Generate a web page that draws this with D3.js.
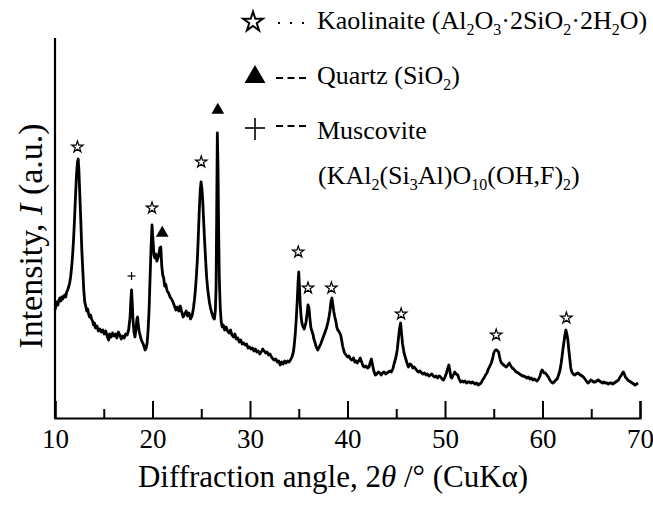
<!DOCTYPE html>
<html>
<head>
<meta charset="utf-8">
<script src="https://cdn.jsdelivr.net/npm/d3@7"></script>
<style>
  html, body { margin: 0; padding: 0; background: #fff; }
  svg { display: block; }
  svg text { font-family: "Liberation Serif", Tinos, "Times New Roman", "DejaVu Serif", serif; fill: #000; }
</style>
</head>
<body>
<svg id="chart" width="653" height="510"></svg>
<script>
const SERIF = '"Liberation Serif", Tinos, "Times New Roman", "DejaVu Serif", serif';

// XRD pattern: [2θ (deg), intensity (a.u.)]
const pattern = [
  [10.0,108],[10.1,112],[10.2,116],[10.3,113],[10.4,118],[10.5,120],[10.6,117],[10.7,121],[10.8,119],[10.9,122],
  [11.0,123],[11.1,121],[11.2,126],[11.3,128],[11.4,131],[11.5,135],[11.6,141],[11.7,150],[11.8,162],[11.9,178],
  [12.0,198],[12.1,221],[12.2,242],[12.3,256],[12.38,259],[12.45,248],[12.55,222],[12.65,196],[12.75,168],[12.85,148],
  [12.95,128],[13.05,116],[13.15,112],[13.25,107],[13.35,109],[13.45,104],[13.55,101],[13.65,103],[13.75,99],[13.85,97],
  [13.95,93],[14.05,95],[14.15,90],[14.3,92],[14.45,87],[14.6,89],[14.75,86],[14.9,88],[15.05,84],[15.2,87],
  [15.35,82],[15.5,78],[15.6,84],[15.75,81],[15.9,85],[16.05,82],[16.2,84],[16.35,80],[16.5,86],[16.65,83],
  [16.8,79],[16.95,82],[17.1,80],[17.25,84],[17.4,83],[17.55,88],[17.7,101],[17.78,118],[17.85,128],[17.93,114],
  [18.0,98],[18.1,86],[18.2,81],[18.3,88],[18.4,99],[18.47,101],[18.55,92],[18.65,86],[18.75,82],[18.85,78],
  [18.95,76],[19.05,74],[19.15,71],[19.25,68],[19.35,70],[19.45,75],[19.55,88],[19.65,108],[19.75,140],[19.85,170],
  [19.95,193],[20.05,178],[20.15,163],[20.25,160],[20.35,164],[20.45,157],[20.55,160],[20.65,163],[20.75,170],[20.85,171],
  [20.95,152],[21.05,143],[21.15,140],[21.25,132],[21.35,134],[21.5,127],[21.65,125],[21.8,121],[21.95,119],[22.1,116],
  [22.25,112],[22.4,108],[22.55,111],[22.7,107],[22.85,112],[23.0,106],[23.15,101],[23.3,104],[23.45,107],[23.6,102],
  [23.75,105],[23.9,99],[24.0,101],[24.1,104],[24.2,110],[24.3,118],[24.4,128],[24.5,142],[24.6,158],[24.7,182],
  [24.8,208],[24.9,228],[24.98,236],[25.07,229],[25.15,218],[25.25,196],[25.35,176],[25.45,158],[25.55,141],[25.65,130],
  [25.75,122],[25.85,115],[25.95,110],[26.05,106],[26.15,103],[26.25,100],[26.35,99],[26.45,108],[26.52,130],[26.58,200],
  [26.65,285],[26.72,250],[26.78,190],[26.85,140],[26.95,110],[27.05,96],[27.15,91],[27.25,93],[27.4,88],[27.55,91],
  [27.7,87],[27.85,85],[28.0,88],[28.15,83],[28.3,81],[28.45,84],[28.6,79],[28.75,80],[28.9,76],[29.05,78],
  [29.2,74],[29.35,75],[29.5,73],[29.65,74],[29.8,70],[29.95,71],[30.1,69],[30.25,70],[30.4,67],[30.55,69],
  [30.7,66],[30.85,67],[31.0,64],[31.15,66],[31.3,69],[31.45,67],[31.6,65],[31.75,66],[31.9,63],[32.05,64],
  [32.2,61],[32.35,59],[32.5,58],[32.65,59],[32.8,56],[32.95,57],[33.1,53],[33.25,56],[33.4,54],[33.55,57],
  [33.7,55],[33.85,57],[34.0,56],[34.15,58],[34.3,61],[34.45,66],[34.55,74],[34.65,85],[34.75,100],[34.85,118],
  [34.93,136],[35.0,146],[35.07,132],[35.15,114],[35.25,100],[35.35,94],[35.45,91],[35.55,89],[35.65,92],[35.75,96],
  [35.85,104],[35.95,113],[36.05,110],[36.15,99],[36.25,90],[36.35,87],[36.45,84],[36.55,79],[36.65,76],[36.8,71],
  [36.95,68],[37.1,71],[37.25,74],[37.4,78],[37.55,82],[37.7,86],[37.85,90],[38.0,96],[38.1,101],[38.2,107],
  [38.3,116],[38.4,120],[38.5,113],[38.6,106],[38.7,101],[38.8,97],[38.9,91],[39.0,88],[39.1,87],[39.2,85],
  [39.3,83],[39.4,78],[39.5,72],[39.6,68],[39.7,65],[39.85,63],[40.0,61],[40.15,62],[40.3,59],[40.45,58],
  [40.6,60],[40.75,56],[40.9,57],[41.0,55],[41.15,57],[41.3,60],[41.45,56],[41.6,52],[41.75,51],[41.9,52],
  [42.05,50],[42.2,51],[42.35,56],[42.45,59],[42.55,54],[42.7,47],[42.85,43],[43.0,44],[43.15,46],[43.3,45],
  [43.45,43],[43.6,45],[43.75,46],[43.9,44],[44.05,45],[44.2,46],[44.35,47],[44.5,46],[44.65,49],[44.8,55],
  [44.95,60],[45.1,68],[45.25,82],[45.35,90],[45.45,95],[45.55,84],[45.65,74],[45.8,65],[45.95,60],[46.1,55],
  [46.25,51],[46.4,54],[46.55,53],[46.7,50],[46.85,51],[47.0,49],[47.15,47],[47.3,46],[47.45,47],[47.6,45],
  [47.75,44],[47.9,45],[48.05,43],[48.2,44],[48.35,42],[48.5,43],[48.65,44],[48.8,42],[48.95,41],[49.1,42],
  [49.25,40],[49.4,42],[49.55,41],[49.7,39],[49.85,38],[50.0,41],[50.15,45],[50.3,50],[50.4,53],[50.5,47],
  [50.6,41],[50.7,40],[50.85,43],[51.0,46],[51.15,44],[51.3,43],[51.45,39],[51.6,36],[51.75,37],[51.9,36],
  [52.05,37],[52.2,35],[52.35,36],[52.5,36],[52.65,35],[52.8,36],[52.95,35],[53.1,34],[53.25,35],[53.4,33],
  [53.55,34],[53.7,35],[53.85,38],[54.0,40],[54.15,43],[54.3,45],[54.45,49],[54.6,52],[54.75,55],[54.9,60],
  [55.0,65],[55.1,67],[55.2,68],[55.3,68],[55.4,67],[55.5,66],[55.6,61],[55.7,57],[55.8,55],[55.9,54],
  [56.0,53],[56.15,52],[56.3,51],[56.45,53],[56.6,55],[56.75,52],[56.9,50],[57.05,49],[57.2,47],[57.35,46],
  [57.5,45],[57.65,44],[57.8,43],[57.95,42],[58.1,42],[58.25,41],[58.4,40],[58.55,41],[58.7,39],[58.85,40],
  [59.0,38],[59.15,39],[59.3,38],[59.45,37],[59.6,39],[59.75,42],[59.85,46],[59.95,48],[60.05,47],[60.15,45],
  [60.3,45],[60.45,43],[60.6,41],[60.75,38],[60.9,36],[61.05,35],[61.2,36],[61.35,38],[61.5,39],[61.65,43],
  [61.8,48],[61.9,54],[62.0,61],[62.1,69],[62.2,76],[62.3,83],[62.4,88],[62.5,84],[62.6,78],[62.7,68],
  [62.8,59],[62.9,50],[63.0,46],[63.15,44],[63.3,43],[63.45,44],[63.6,45],[63.75,44],[63.9,43],[64.05,42],
  [64.2,41],[64.35,39],[64.5,37],[64.65,35],[64.8,36],[64.95,38],[65.1,37],[65.25,36],[65.4,36],[65.55,37],
  [65.7,38],[65.85,37],[66.0,36],[66.15,35],[66.3,36],[66.45,35],[66.6,35],[66.75,34],[66.9,35],[67.05,35],
  [67.2,34],[67.35,35],[67.5,36],[67.65,37],[67.8,38],[67.95,41],[68.1,43],[68.2,45],[68.3,46],[68.4,44],
  [68.5,41],[68.6,40],[68.75,38],[68.9,37],[69.05,36],[69.2,35],[69.35,34],[69.5,33],[69.65,34],[69.8,35]
];

// Phase markers over the identified reflections: [2θ, level (a.u.)]
const kaolinitePeaks = [[12.3,271],[19.95,210],[25.0,256],[34.95,166],[35.95,130],[38.35,130],[45.5,104],[55.25,83],[62.45,100]];
const quartzPeaks    = [[21.0,185],[26.7,308]];
const muscovitePeaks = [[17.85,142]];

const xTicks = [10, 20, 30, 40, 50, 60, 70];
const xMinorTicks = [15, 25, 35, 45, 55, 65];

const svg = d3.select("#chart");

const x = d3.scaleLinear().domain([10, 70]).range([55, 640]);
const y = d3.scaleLinear().domain([0, 380]).range([418, 38]);

// Axes (ticks point inward)
const xAxis = d3.axisBottom(x).tickValues(xTicks).tickSize(-17).tickPadding(30).tickFormat(d3.format("d"));
const gx = svg.append("g").attr("transform", `translate(0,${y(0)})`).call(xAxis);
gx.attr("font-family", SERIF);
gx.select(".domain").attr("stroke", "#000").attr("stroke-width", 2.2);
gx.selectAll(".tick line").attr("stroke", "#000").attr("stroke-width", 2);
gx.selectAll(".tick text")
  .style("font-family", SERIF)
  .attr("font-size", 27).attr("fill", "#000").attr("dy", 0);

const gxm = svg.append("g").attr("transform", `translate(0,${y(0)})`)
  .call(d3.axisBottom(x).tickValues(xMinorTicks).tickSize(-9).tickFormat(""));
gxm.select(".domain").remove();
gxm.selectAll(".tick line").attr("stroke", "#000").attr("stroke-width", 2);

svg.append("line")
  .attr("x1", x(10)).attr("x2", x(10))
  .attr("y1", y(0) + 1).attr("y2", y(380))
  .attr("stroke", "#000").attr("stroke-width", 2.2);

// Diffraction trace
const line = d3.line().x(d => x(d[0])).y(d => y(d[1]));
svg.append("path")
  .datum(pattern)
  .attr("d", line)
  .attr("fill", "none")
  .attr("stroke", "#000")
  .attr("stroke-width", 2.8)
  .attr("stroke-linejoin", "round");

// Phase symbols
const starSmall = d3.symbol().type(d3.symbolStar).size(40);
const triSmall = d3.symbol().type(d3.symbolTriangle).size(70);

svg.append("g").selectAll("path")
  .data(kaolinitePeaks).join("path")
  .attr("transform", d => `translate(${x(d[0])},${y(d[1])})`)
  .attr("d", starSmall())
  .attr("fill", "#fff").attr("stroke", "#000").attr("stroke-width", 1.2);

svg.append("g").selectAll("path")
  .data(quartzPeaks).join("path")
  .attr("transform", d => `translate(${x(d[0])},${y(d[1])})`)
  .attr("d", triSmall())
  .attr("fill", "#000");

const plusG = svg.append("g").selectAll("g")
  .data(muscovitePeaks).join("g")
  .attr("transform", d => `translate(${x(d[0])},${y(d[1])})`);
plusG.append("line").attr("x1", -4).attr("x2", 4).attr("stroke", "#000").attr("stroke-width", 1.2);
plusG.append("line").attr("y1", -4).attr("y2", 4).attr("stroke", "#000").attr("stroke-width", 1.2);

// Axis titles
const xt = svg.append("text").attr("x", 333).attr("y", 487)
  .attr("text-anchor", "middle").attr("font-size", 31).style("font-family", SERIF);
xt.append("tspan").text("Diffraction angle, 2");
xt.append("tspan").attr("font-style", "italic").text("θ");
xt.append("tspan").text(" /° (CuKα)");

const yt = svg.append("text")
  .attr("transform", "translate(42,236) rotate(-90)")
  .attr("text-anchor", "middle").attr("font-size", 34).style("font-family", SERIF);
yt.append("tspan").text("Intensity, ");
yt.append("tspan").attr("font-style", "italic").text("I");
yt.append("tspan").text(" (a.u.)");

// Legend
const legend = svg.append("g").attr("font-size", 26);
function addRich(g, xPos, yPos, parts) {
  const t = g.append("text").attr("x", xPos).attr("y", yPos).style("font-family", SERIF);
  let shift = 0;
  parts.forEach(p => {
    if (typeof p === "string") {
      t.append("tspan").attr("dy", -shift).text(p);
      shift = 0;
    } else {
      t.append("tspan").attr("font-size", 16).attr("dy", 6 - shift).text(p.sub);
      shift = 6;
    }
  });
  return t;
}

legend.append("path")
  .attr("transform", "translate(253,22)")
  .attr("d", d3.symbol().type(d3.symbolStar).size(120)())
  .attr("fill", "#fff").attr("stroke", "#000").attr("stroke-width", 2);
legend.append("line").attr("x1", 278).attr("x2", 306).attr("y1", 23).attr("y2", 23)
  .attr("stroke", "#000").attr("stroke-width", 2).attr("stroke-dasharray", "2,10");
addRich(legend, 317, 29, ["Kaolinaite (Al", {sub: "2"}, "O", {sub: "3"}, "·2SiO", {sub: "2"}, "·2H", {sub: "2"}, "O)"]);

legend.append("path")
  .attr("transform", "translate(255,77)")
  .attr("d", d3.symbol().type(d3.symbolTriangle).size(190)())
  .attr("fill", "#000");
legend.append("line").attr("x1", 276).attr("x2", 306).attr("y1", 78).attr("y2", 78)
  .attr("stroke", "#000").attr("stroke-width", 2).attr("stroke-dasharray", "7,4.5");
addRich(legend, 317, 84, ["Quartz (SiO", {sub: "2"}, ")"]);

legend.append("line").attr("x1", 245).attr("x2", 265).attr("y1", 128).attr("y2", 128).attr("stroke", "#000").attr("stroke-width", 1.6);
legend.append("line").attr("x1", 255).attr("x2", 255).attr("y1", 118).attr("y2", 140).attr("stroke", "#000").attr("stroke-width", 1.6);
legend.append("line").attr("x1", 276).attr("x2", 306).attr("y1", 126).attr("y2", 126)
  .attr("stroke", "#000").attr("stroke-width", 2).attr("stroke-dasharray", "7,4.5");
addRich(legend, 317, 139, ["Muscovite"]);
addRich(legend, 318, 184, ["(KAl", {sub: "2"}, "(Si", {sub: "3"}, "Al)O", {sub: "10"}, "(OH,F)", {sub: "2"}, ")"]);
</script>
</body>
</html>
